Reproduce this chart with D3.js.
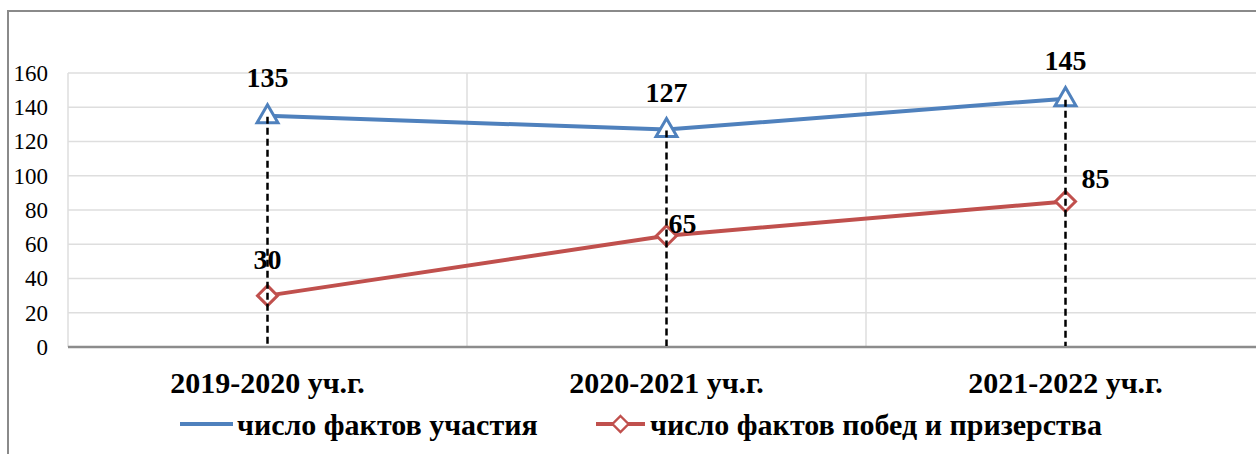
<!DOCTYPE html>
<html>
<head>
<meta charset="utf-8">
<script src="https://cdn.jsdelivr.net/npm/d3@7"></script>
<style>
  body { margin: 0; background: #fff; }
  svg, svg text { font-family: "Liberation Serif", "Times New Roman", serif; }
</style>
</head>
<body>
<div id="chart"></div>
<script>
// data
var years = ["2019-2020 уч.г.", "2020-2021 уч.г.", "2021-2022 уч.г."];
var participation = [135, 127, 145];
var winners = [30, 65, 85];
var seriesNames = ["число фактов участия", "число фактов побед и призерства"];
var yTicks = [0, 20, 40, 60, 80, 100, 120, 140, 160];

var W = 1256, H = 454;
var plot = {left: 68, right: 1265, top: 73, bottom: 347};

// label offsets relative to point
var blueOffsets = [[0, -29], [0, -28], [0, -29]];
var redOffsets = [[0, -27], [16, -3], [30, -13]];

var svg = d3.select("#chart").append("svg")
    .attr("width", W)
    .attr("height", H);

// outer frame (continues past the window)
svg.append("path")
    .attr("d", `M8,${H + 5} L8,11 L${W + 5},11`)
    .attr("fill", "none")
    .attr("stroke", "#8a8a8a")
    .attr("stroke-width", 2);

var x = d3.scaleBand()
    .domain(years)
    .range([plot.left, plot.right]);

var y = d3.scaleLinear()
    .domain([0, 160])
    .range([plot.bottom, plot.top]);

var cx = function(i) { return x(years[i]) + x.bandwidth() / 2; };

// horizontal grid
svg.append("g").selectAll("line").data(yTicks.slice(1)).enter()
    .append("line")
    .attr("x1", plot.left).attr("x2", W)
    .attr("y1", function(d) { return y(d); })
    .attr("y2", function(d) { return y(d); })
    .attr("stroke", "#dedede")
    .attr("stroke-width", 1.5);

// vertical grid at band edges
svg.append("g").selectAll("line").data(years).enter()
    .append("line")
    .attr("x1", function(d) { return x(d); })
    .attr("x2", function(d) { return x(d); })
    .attr("y1", plot.top).attr("y2", plot.bottom)
    .attr("stroke", "#dedede")
    .attr("stroke-width", 1.5);

// y axis labels
var yAxis = svg.append("g")
    .attr("transform", `translate(${plot.left}, 0)`)
    .call(d3.axisLeft(y).tickValues(yTicks).tickSize(0).tickPadding(20));
yAxis.attr("font-family", null);
yAxis.select(".domain").remove();
yAxis.selectAll("text")
    .attr("font-size", 23)
    .attr("fill", "#000");

// x axis baseline
svg.append("line")
    .attr("x1", plot.left).attr("x2", W)
    .attr("y1", plot.bottom).attr("y2", plot.bottom)
    .attr("stroke", "#8c8c8c")
    .attr("stroke-width", 2.5);

// category labels
svg.append("g").selectAll("text").data(years).enter()
    .append("text")
    .attr("x", function(d, i) { return cx(i); })
    .attr("y", 393)
    .attr("text-anchor", "middle")
    .attr("font-weight", "bold")
    .attr("font-size", 30)
    .text(function(d) { return d; });

var line = d3.line()
    .x(function(d, i) { return cx(i); })
    .y(function(d) { return y(d); });

var blue = "#4f81bd", red = "#c0504d";

svg.append("path").datum(participation)
    .attr("d", line)
    .attr("fill", "none")
    .attr("stroke", blue)
    .attr("stroke-width", 4);

svg.append("path").datum(winners)
    .attr("d", line)
    .attr("fill", "none")
    .attr("stroke", red)
    .attr("stroke-width", 4);

var tri = d3.symbol().type(d3.symbolTriangle).size(190);
var dia = "M0,-10 L10,0 L0,10 L-10,0 Z";

svg.append("g").selectAll("path").data(participation).enter()
    .append("path")
    .attr("d", tri)
    .attr("transform", function(d, i) { return `translate(${cx(i)},${y(d) + 1})`; })
    .attr("fill", "#fff")
    .attr("stroke", blue)
    .attr("stroke-width", 3);

svg.append("g").selectAll("path").data(winners).enter()
    .append("path")
    .attr("d", dia)
    .attr("transform", function(d, i) { return `translate(${cx(i)},${y(d)})`; })
    .attr("fill", "#fff")
    .attr("stroke", red)
    .attr("stroke-width", 3);

// data labels
svg.append("g").selectAll("text").data(participation).enter()
    .append("text")
    .attr("x", function(d, i) { return cx(i) + blueOffsets[i][0]; })
    .attr("y", function(d, i) { return y(d) + blueOffsets[i][1]; })
    .attr("text-anchor", "middle")
    .attr("font-weight", "bold")
    .attr("font-size", 28)
    .text(function(d) { return d; });

svg.append("g").selectAll("text").data(winners).enter()
    .append("text")
    .attr("x", function(d, i) { return cx(i) + redOffsets[i][0]; })
    .attr("y", function(d, i) { return y(d) + redOffsets[i][1]; })
    .attr("text-anchor", "middle")
    .attr("font-weight", "bold")
    .attr("font-size", 28)
    .text(function(d) { return d; });

// dashed drop lines
svg.append("g").selectAll("line").data(participation).enter()
    .append("line")
    .attr("x1", function(d, i) { return cx(i); })
    .attr("x2", function(d, i) { return cx(i); })
    .attr("y1", function(d) { return y(d) + 1; })
    .attr("y2", plot.bottom - 1)
    .attr("stroke", "#000")
    .attr("stroke-width", 2.5)
    .attr("stroke-dasharray", "7,4");

// legend
var legend = [
  {name: seriesNames[0], color: blue, marker: tri, x0: 180, x1: 233, tx: 237},
  {name: seriesNames[1], color: red, marker: dia, x0: 596, x1: 645, tx: 650}
];
var lg = svg.append("g").selectAll("g").data(legend).enter().append("g");
lg.append("line")
    .attr("x1", function(d) { return d.x0; })
    .attr("x2", function(d) { return d.x1; })
    .attr("y1", 424).attr("y2", 424)
    .attr("stroke", function(d) { return d.color; })
    .attr("stroke-width", 4);
lg.append("path")
    .attr("d", function(d) { return d.marker; })
    .attr("transform", function(d) { return `translate(${(d.x0 + d.x1) / 2},${d.marker === dia ? 424 : 425})scale(${d.marker === dia ? 0.8 : 0.85})`; })
    .attr("fill", "#fff")
    .attr("stroke", function(d) { return d.color; })
    .attr("stroke-width", 3);
lg.append("text")
    .attr("x", function(d) { return d.tx; })
    .attr("y", 435)
    .attr("font-weight", "bold")
    .attr("font-size", 30)
    .text(function(d) { return d.name; });
</script>
</body>
</html>
